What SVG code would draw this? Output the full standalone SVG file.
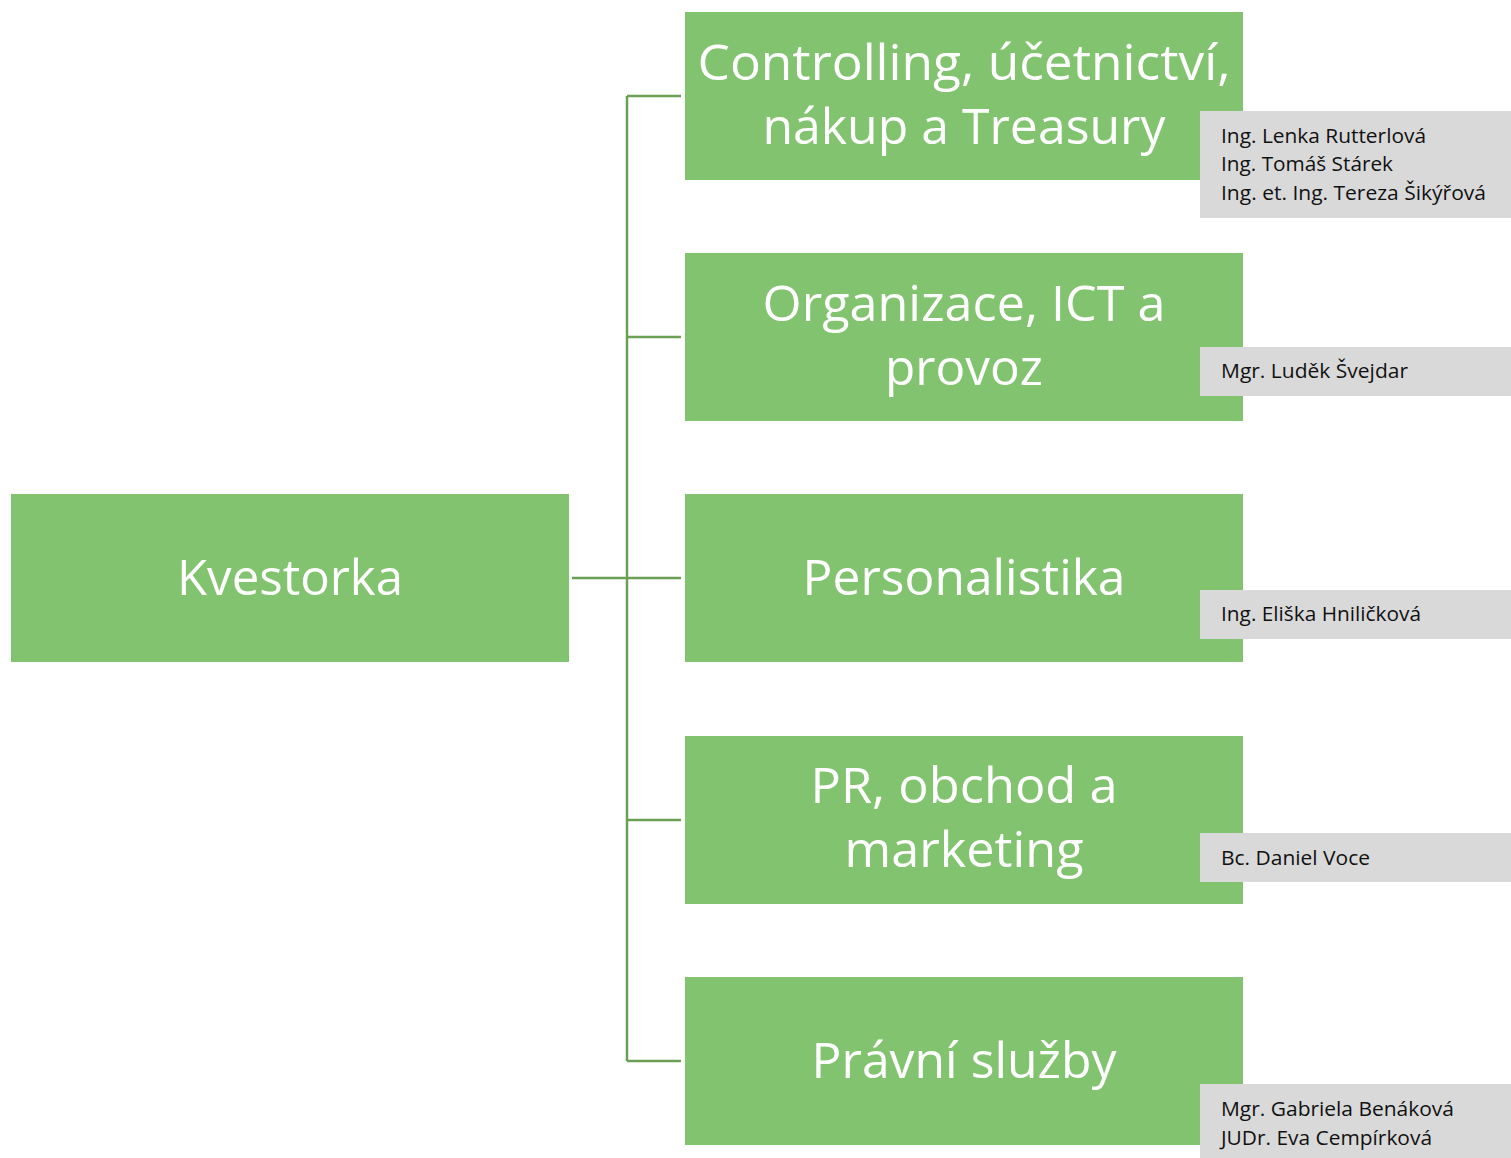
<svg xmlns="http://www.w3.org/2000/svg" width="1511" height="1158" viewBox="0 0 1511 1158">
<style>
.box{fill:#82c36f}
.note{fill:#d9d9d9}
.big{font-family:"Open Sans","Liberation Sans",sans-serif;font-size:50px;fill:#ffffff;text-anchor:middle}
.small{font-family:"Open Sans","Liberation Sans",sans-serif;font-size:19.5px;fill:#111111}
.con{stroke:#6aa054;stroke-width:2.5;fill:none}
</style>
<rect width="1511" height="1158" fill="#ffffff"/>
<g id="connectors">
<path class="con" d="M572 578H627M627 96V1061M627 96H681M627 337H681M627 578H681M627 820H681M627 1061H681"/>
</g>
<g id="kvestorka">
<rect class="box" x="11" y="494" width="558" height="168"/>
<text class="big" x="290" y="595" textLength="226" lengthAdjust="spacingAndGlyphs">Kvestorka</text>
</g>
<g id="controlling">
<rect class="box" x="685" y="12" width="558" height="168"/>
<text class="big" x="964" y="80" textLength="533" lengthAdjust="spacingAndGlyphs">Controlling, účetnictví,</text>
<text class="big" x="964" y="144" textLength="403" lengthAdjust="spacingAndGlyphs">nákup a Treasury</text>
</g>
<g id="controlling-note">
<rect class="note" x="1200" y="111" width="311" height="107"/>
<text class="small" x="1221" y="143" textLength="205" lengthAdjust="spacingAndGlyphs">Ing. Lenka Rutterlová</text>
<text class="small" x="1221" y="171" textLength="172" lengthAdjust="spacingAndGlyphs">Ing. Tomáš Stárek</text>
<text class="small" x="1221" y="200" textLength="265" lengthAdjust="spacingAndGlyphs">Ing. et. Ing. Tereza Šikýřová</text>
</g>
<g id="organizace">
<rect class="box" x="685" y="253" width="558" height="168"/>
<text class="big" x="964" y="321" textLength="403" lengthAdjust="spacingAndGlyphs">Organizace, ICT a</text>
<text class="big" x="964" y="385" textLength="158" lengthAdjust="spacingAndGlyphs">provoz</text>
</g>
<g id="organizace-note">
<rect class="note" x="1200" y="347" width="311" height="49"/>
<text class="small" x="1221" y="378" textLength="187" lengthAdjust="spacingAndGlyphs">Mgr. Luděk Švejdar</text>
</g>
<g id="personalistika">
<rect class="box" x="685" y="494" width="558" height="168"/>
<text class="big" x="964" y="595" textLength="323" lengthAdjust="spacingAndGlyphs">Personalistika</text>
</g>
<g id="personalistika-note">
<rect class="note" x="1200" y="590" width="311" height="49"/>
<text class="small" x="1221" y="621" textLength="200" lengthAdjust="spacingAndGlyphs">Ing. Eliška Hniličková</text>
</g>
<g id="pr">
<rect class="box" x="685" y="736" width="558" height="168"/>
<text class="big" x="964" y="803" textLength="307" lengthAdjust="spacingAndGlyphs">PR, obchod a</text>
<text class="big" x="964" y="867" textLength="239" lengthAdjust="spacingAndGlyphs">marketing</text>
</g>
<g id="pr-note">
<rect class="note" x="1200" y="833" width="311" height="49"/>
<text class="small" x="1221" y="865" textLength="149" lengthAdjust="spacingAndGlyphs">Bc. Daniel Voce</text>
</g>
<g id="pravni">
<rect class="box" x="685" y="977" width="558" height="168"/>
<text class="big" x="964" y="1078" textLength="305" lengthAdjust="spacingAndGlyphs">Právní služby</text>
</g>
<g id="pravni-note">
<rect class="note" x="1200" y="1084" width="311" height="74"/>
<text class="small" x="1221" y="1116" textLength="233" lengthAdjust="spacingAndGlyphs">Mgr. Gabriela Benáková</text>
<text class="small" x="1221" y="1145" textLength="211" lengthAdjust="spacingAndGlyphs">JUDr. Eva Cempírková</text>
</g>
</svg>
